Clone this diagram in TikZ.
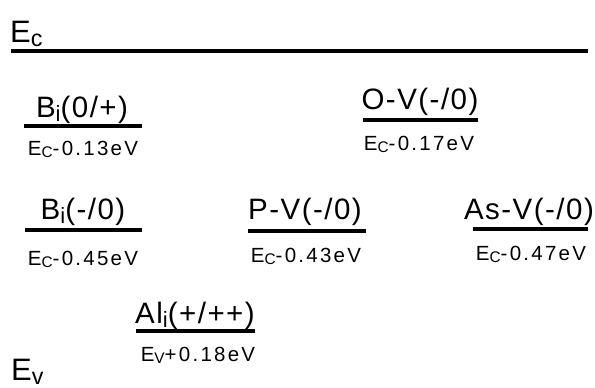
\documentclass[tikz,border=0pt]{standalone}
\usepackage{fontspec}
\usepackage{graphicx}
\setmainfont{Liberation Sans}
\newfontfamily\bandfont{Liberation Sans}
\newfontfamily\deffont[LetterSpace=5]{Liberation Sans}
\newfontfamily\enfont[LetterSpace=11]{Liberation Sans}
\newcommand{\lowsub}[1]{\raisebox{-0.14em}{\scalebox{0.75}{#1}}}
\usepackage{tikz}
\tikzstyle{band} = [anchor=base west, inner sep=0pt, font=\bandfont\fontsize{31}{33}\selectfont]
\tikzstyle{defect} = [anchor=base, inner sep=0pt, font=\deffont\fontsize{29.5}{31}\selectfont]
\tikzstyle{energy} = [anchor=base, inner sep=0pt, font=\enfont\fontsize{20.5}{22}\selectfont]
\tikzstyle{level} = [draw, line width=3.2pt]

\begin{document}
\begin{tikzpicture}[x=1pt, y=-1pt]
    \useasboundingbox (0,0) rectangle (595,388);

    % band edges
    \node [band] (ec) at (10,42) {E\lowsub{c}};
    \coordinate (ec_l) at (11,51);
    \coordinate (ec_r) at (588,51);
    \draw [level] (ec_l) -- (ec_r);
    \node [band] (ev) at (11,380) {E\lowsub{v}};

    % upper row
    \node [defect] (bi_a) at (82,117) {B\lowsub{i}(0/+)};
    \draw [level] (24,126) -- (142,126);
    \node [energy] (bi_a_e) at (83,155) {E\lowsub{C}-0.13eV};

    \node [defect] (ov) at (420,109) {O-V(-/0)};
    \draw [level] (363,120) -- (478,120);
    \node [energy] (ov_e) at (419,150) {E\lowsub{C}-0.17eV};

    % middle row
    \node [defect] (bi_b) at (83,219) {B\lowsub{i}(-/0)};
    \draw [level] (25,230) -- (142,230);
    \node [energy] (bi_b_e) at (83,265) {E\lowsub{C}-0.45eV};

    \node [defect] (pv) at (305,219) {P-V(-/0)};
    \draw [level] (248,231) -- (366,231);
    \node [energy] (pv_e) at (306,262) {E\lowsub{C}-0.43eV};

    \node [defect] (asv) at (529,219) {As-V(-/0)};
    \draw [level] (473,229) -- (588,229);
    \node [energy] (asv_e) at (531,260) {E\lowsub{C}-0.47eV};

    % lower row
    \node [defect] (ali) at (195,323) {Al\lowsub{i}(+/++)};
    \draw [level] (136,331) -- (255,331);
    \node [energy] (ali_e) at (198,361) {E\lowsub{V}+0.18eV};
\end{tikzpicture}
\end{document}
